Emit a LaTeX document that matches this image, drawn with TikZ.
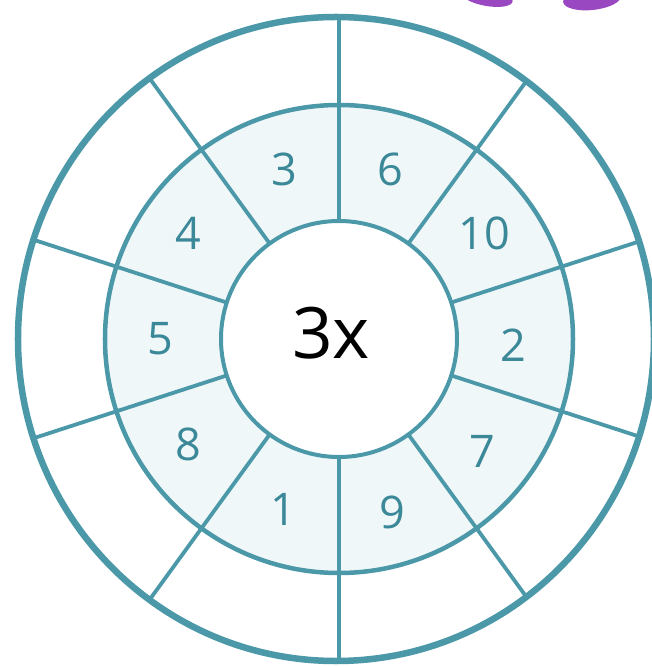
\documentclass[tikz,border=0pt]{standalone}
\usepackage{fontspec}
\setmainfont{Open Sans}
\usetikzlibrary{positioning}
\definecolor{ringteal}{HTML}{4B98A8}
\definecolor{numteal}{HTML}{3A8898}
\definecolor{ringfill}{HTML}{F0F7F9}
\definecolor{blobpurple}{HTML}{9A48C2}
\begin{document}
\begin{tikzpicture}[
  x=1pt,y=1pt,
  num/.style={text=numteal,font=\fontsize{45}{45}\selectfont,inner sep=0pt},
  mult/.style={text=black,font=\fontsize{71}{71}\selectfont,inner sep=0pt},
  spoke/.style={draw=ringteal,line width=3.8pt},
  rim/.style={draw=ringteal}]
\useasboundingbox (-339pt,-327pt) rectangle (313pt,339pt);
% purple bits at the top edge
\fill[blobpurple,rotate around={-10:(148pt,342pt)}] (148pt,342pt) ellipse (26pt and 9pt);
\fill[blobpurple,rotate around={6:(253pt,340pt)}] (253pt,340pt) ellipse (29pt and 11pt);
% shaded ring
\fill[ringfill,even odd rule] (0,0) circle (234pt) (0,0) circle (118pt);
% spokes
\begin{scope}
\clip (-3pt,0) ellipse (318pt and 322pt);
\draw[spoke] (90:118pt) -- (90:330pt);
\draw[spoke] (54:118pt) -- (54:330pt);
\draw[spoke] (18:118pt) -- (18:330pt);
\draw[spoke] (-18:118pt) -- (-18:330pt);
\draw[spoke] (-54:118pt) -- (-54:330pt);
\draw[spoke] (-90:118pt) -- (-90:330pt);
\draw[spoke] (-126:118pt) -- (-126:330pt);
\draw[spoke] (-162:118pt) -- (-162:330pt);
\draw[spoke] (162:118pt) -- (162:330pt);
\draw[spoke] (126:118pt) -- (126:330pt);
\end{scope}
% circles
\draw[rim,line width=6.5pt] (-3pt,0) ellipse (318pt and 322pt);
\draw[rim,line width=4.5pt] (0,0) circle (234pt);
\draw[rim,line width=4pt] (0,0) circle (118pt);
% centre
\node[mult] (ctr) at (-8pt,6pt) {3x};
% numbers
\node[num] (n3) at (108:178pt) {3};
\node[num] (n6) at (73:177pt) {6};
\node[num] (n10) at (36:180pt) {10};
\node[num] (n2) at (-2:174pt) {2};
\node[num] (n7) at (-38:182pt) {7};
\node[num] (n9) at (-73:181pt) {9};
\node[num] (n1) at (-108:179pt) {1};
\node[num] (n8) at (-145:184pt) {8};
\node[num] (n5) at (180:179pt) {5};
\node[num] (n4) at (145:184pt) {4};
\end{tikzpicture}
\end{document}
